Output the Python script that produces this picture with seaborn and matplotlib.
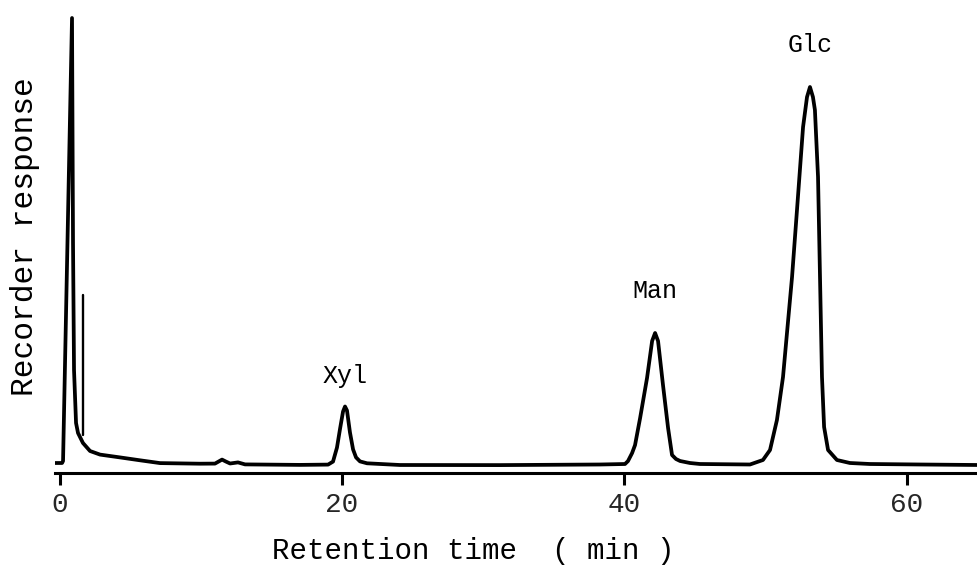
import numpy as np
import pandas as pd
import matplotlib
matplotlib.use("Agg")
import matplotlib.pyplot as plt
import seaborn as sns

# ---- data (time in min, response in arbitrary units) ----
time_min = [
    -0.32, 0.18, 0.25, 0.885, 0.956, 1.027, 1.17, 1.31, 1.66, 2.16, 2.87, 4.28,
    5.70, 7.12, 9.95, 11.01, 11.51, 11.79, 12.08, 12.64, 13.14, 17.03,
    19.02, 19.37, 19.65, 19.87, 20.08, 20.22, 20.36, 20.57, 20.79, 21.0, 21.28,
    21.78, 24.11, 31.2, 38.28, 40.05, 40.26, 40.55, 40.76, 41.12, 41.61, 41.97,
    42.18, 42.39, 42.74, 43.1, 43.38, 43.66, 43.95, 44.65, 45.36, 48.9, 49.82,
    50.32, 50.81, 51.24, 51.88, 52.23, 52.66, 52.94, 53.15, 53.36, 53.5, 53.72,
    53.86, 54.0, 54.15, 54.43, 55.06, 55.98, 57.4, 60.94, 65.05,
]
response = [
    10, 10, 12, 455, 230, 103, 50, 40, 30, 22, 18.4, 15.6,
    12.7, 9.9, 9.3, 9.4, 13.4, 11.4, 9.5, 10.6, 8.6, 8.1,
    8.4, 11.4, 25.4, 44.4, 61.5, 66.5, 62.5, 40.6, 23.6, 15.6, 11.6,
    9.7, 8.0, 7.9, 8.5, 9.0, 11.9, 19.9, 27.9, 55, 95, 132,
    140, 132, 88, 45, 18, 14, 12, 10, 9, 8.5, 13,
    23, 53, 96, 196, 263, 346, 376, 386, 376, 363, 296,
    196, 96, 46, 23, 13, 10, 9, 8.5, 8,
]
# narrow electrical spike just after the solvent front
spike_time = [1.66, 1.66]
spike_resp = [38, 178]

peak_names = ["Xyl", "Man", "Glc"]
peak_times = [20.22, 42.18, 53.15]
peak_heights = [66.5, 140, 386]

x_ticks = [0, 20, 40, 60]

# ---- styling ----
sns.set_theme(style="white")
plt.rcParams["font.family"] = ["Liberation Mono", "DejaVu Sans Mono"]

fig = plt.figure(figsize=(9.78, 5.72), dpi=100)
ax = fig.add_axes([55 / 978, 1 - 473 / 572, 923 / 978, 473 / 572])

df = pd.DataFrame({"time": time_min, "response": response})
sns.lineplot(data=df, x="time", y="response", sort=False, estimator=None,
             ax=ax, color="black", linewidth=2.7, solid_joinstyle="round",
             solid_capstyle="round")
spike_df = pd.DataFrame({"time": spike_time, "response": spike_resp})
sns.lineplot(data=spike_df, x="time", y="response", sort=False,
             estimator=None, ax=ax, color="black", linewidth=1.7)

ax.set_xlim(-0.32, 65.05)
ax.set_ylim(0, 473)

sns.despine(ax=ax, left=True)
ax.spines["bottom"].set_linewidth(2.2)
ax.spines["bottom"].set_color("black")

ax.set_xticks(x_ticks)
ax.set_xticklabels([str(t) for t in x_ticks], fontsize=20)
ax.tick_params(axis="x", direction="out", length=8.5, width=2.2,
               color="black", pad=5, bottom=True)
ax.set_yticks([])

offsets = [30, 42, 42]
for name, t, h, off in zip(peak_names, peak_times, peak_heights, offsets):
    ax.text(t, h + off, name, ha="center", va="center", fontsize=18,
            color="black")

ax.set_xlabel("Retention time  ( min )", fontsize=21, color="black")
ax.xaxis.set_label_coords(0.453, -0.135)
ax.set_ylabel("Recorder response", fontsize=22.5, color="black")
ax.yaxis.set_label_coords(-0.016, 0.50)

fig.savefig("out.png", dpi=100, facecolor="white")
